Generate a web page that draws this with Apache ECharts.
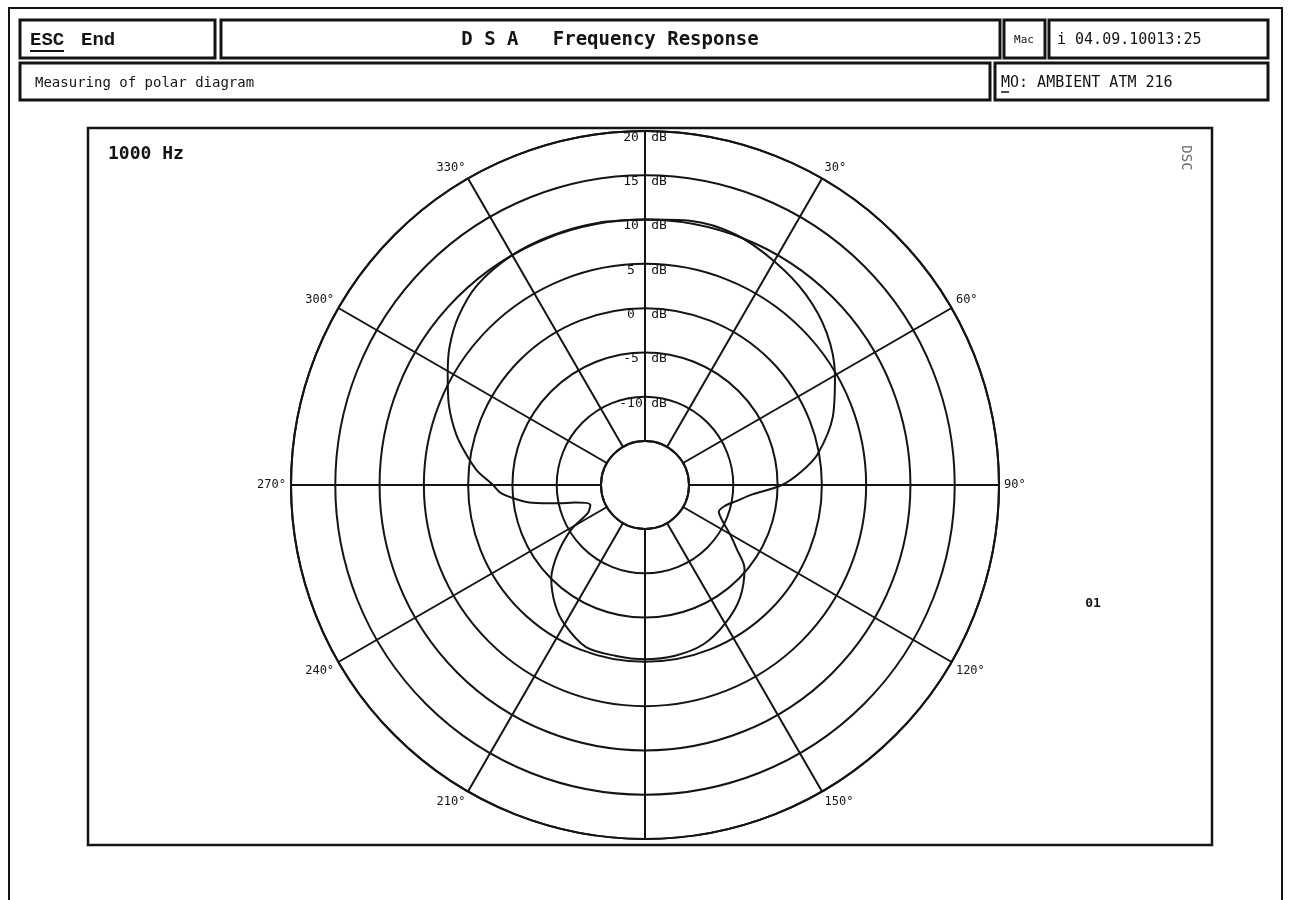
<!DOCTYPE html>
<html>
<head>
<meta charset="utf-8">
<script src="https://cdn.jsdelivr.net/npm/echarts@6/dist/echarts.min.js"></script>
<style>
html,body{margin:0;padding:0;background:#fff;}
#chart{width:1290px;height:900px;}
</style>
</head>
<body>
<div id="chart"></div>
<script>
// ---- data ----
const angles = [0,10,20,30,40,50,60,70,80,85,90,95,100,105,110,115,120,125,130,140,150,160,170,180,190,200,210,217,225,232,239,244,250,256,258,261,264,267,270,275,280,285,292,299,305,312,320,330,340,350,360];
const levels = [10.0,10.3,10.1,9.2,8.2,6.8,4.8,2.6,-0.2,-2.2,-4.5,-7.8,-9.5,-10.7,-11.1,-10.3,-8.9,-7.3,-5.3,-3.3,-1.9,-0.8,-0.4,-0.3,-0.4,-0.5,-1.8,-3.1,-5.0,-7.5,-10.3,-12.8,-13.4,-11.8,-10.0,-7.1,-5.2,-3.6,-2.8,-0.9,0.6,2.1,3.9,5.5,7.0,8.4,9.5,10.0,10.1,10.1,10.0];
const angleTickLabels = ['', '30°', '60°', '90°', '120°', '150°', '', '210°', '240°', '270°', '300°', '330°'];
const dbTicks = [-15,-10,-5,0,5,10,15,20];

const ink = '#141414';
const mono = '"DejaVu Sans Mono", "Liberation Mono", monospace';

const chart = echarts.init(document.getElementById('chart'), null, {renderer:'canvas'});

const graphics = [
  // page border
  {type:'rect', shape:{x:9,y:8,width:1273,height:900}, style:{fill:null, stroke:ink, lineWidth:2}, silent:true},
  // header boxes
  {type:'rect', shape:{x:20,y:20,width:195,height:38}, style:{fill:null, stroke:ink, lineWidth:3}},
  {type:'rect', shape:{x:221,y:20,width:779,height:38}, style:{fill:null, stroke:ink, lineWidth:3}},
  {type:'rect', shape:{x:1004,y:20,width:41,height:38}, style:{fill:null, stroke:ink, lineWidth:3}},
  {type:'rect', shape:{x:1049,y:20,width:219,height:38}, style:{fill:null, stroke:ink, lineWidth:3}},
  {type:'rect', shape:{x:20,y:63,width:970,height:37}, style:{fill:null, stroke:ink, lineWidth:3}},
  {type:'rect', shape:{x:995,y:63,width:273,height:37}, style:{fill:null, stroke:ink, lineWidth:3}},
  // header texts
  {type:'text', x:30, y:40, style:{text:'ESC', font:'bold 19px "Liberation Mono", monospace', fill:ink, verticalAlign:'middle'}},
  {type:'line', shape:{x1:30,y1:51,x2:64,y2:51}, style:{stroke:ink, lineWidth:2}},
  {type:'text', x:81, y:40, style:{text:'End', font:'bold 19px "Liberation Mono", monospace', fill:ink, verticalAlign:'middle'}},
  {type:'text', x:610, y:40, style:{text:'D S A   Frequency Response', font:'bold 19px ' + mono, fill:ink, align:'center', verticalAlign:'middle'}},
  {type:'text', x:1024, y:40, style:{text:'Mac', font:'11px ' + mono, fill:ink, align:'center', verticalAlign:'middle'}},
  {type:'text', x:1057, y:40, style:{text:'i 04.09.10013:25', font:'15px ' + mono, fill:ink, verticalAlign:'middle'}},
  {type:'text', x:35, y:83, style:{text:'Measuring of polar diagram', font:'14px ' + mono, fill:ink, verticalAlign:'middle'}},
  {type:'text', x:1001, y:83, style:{text:'MO: AMBIENT ATM 216', font:'15px ' + mono, fill:ink, verticalAlign:'middle'}},
  {type:'line', shape:{x1:1001,y1:92,x2:1009,y2:92}, style:{stroke:ink, lineWidth:1.5}},
  // chart frame
  {type:'rect', shape:{x:88,y:128,width:1124,height:717}, style:{fill:null, stroke:ink, lineWidth:2.5}},
  {type:'text', x:108, y:154, style:{text:'1000 Hz', font:'bold 18px ' + mono, fill:ink, verticalAlign:'middle'}},
  {type:'text', x:1093, y:604, style:{text:'01', font:'bold 13px ' + mono, fill:ink, align:'center', verticalAlign:'middle'}},
  {type:'text', x:1186, y:158, rotation:-Math.PI/2, style:{text:'DSC', font:'14px ' + mono, fill:'#666', align:'center', verticalAlign:'middle'}}
];

const option = {
  backgroundColor:'#ffffff',
  animation:false,
  polar:{center:[645,485], radius:[44,354]},
  angleAxis:{
    type:'value', min:0, max:360, interval:30, startAngle:90, clockwise:true,
    axisLine:{show:true, lineStyle:{color:ink, width:2}},
    axisTick:{show:false},
    splitLine:{show:true, lineStyle:{color:ink, width:2}},
    axisLabel:{
      margin:5, color:ink, fontFamily:mono, fontSize:12,
      formatter:function(v){ return angleTickLabels[Math.round(v/30)%12] || ''; }
    }
  },
  radiusAxis:{
    type:'value', min:-15, max:20, interval:5,
    axisLine:{show:false}, axisTick:{show:false},
    splitLine:{show:true, lineStyle:{color:ink, width:2}},
    axisLabel:{
      margin:0, align:'center', verticalAlign:'top',
      formatter:function(v){ return v <= -15 ? '' : '{n|' + v + '}{d|dB}'; },
      rich:{
        n:{width:24, align:'right', fontFamily:mono, fontSize:13, color:ink, padding:[0,2,0,0]},
        d:{width:24, align:'left', fontFamily:mono, fontSize:13, color:ink, padding:[0,0,0,2]}
      }
    }
  },
  graphic:graphics,
  series:[{
    type:'line', coordinateSystem:'polar', symbol:'none', smooth:0.3,
    lineStyle:{color:ink, width:2},
    data:angles.map(function(a,i){ return [levels[i], a]; })
  }]
};
chart.setOption(option);
</script>
</body>
</html>
